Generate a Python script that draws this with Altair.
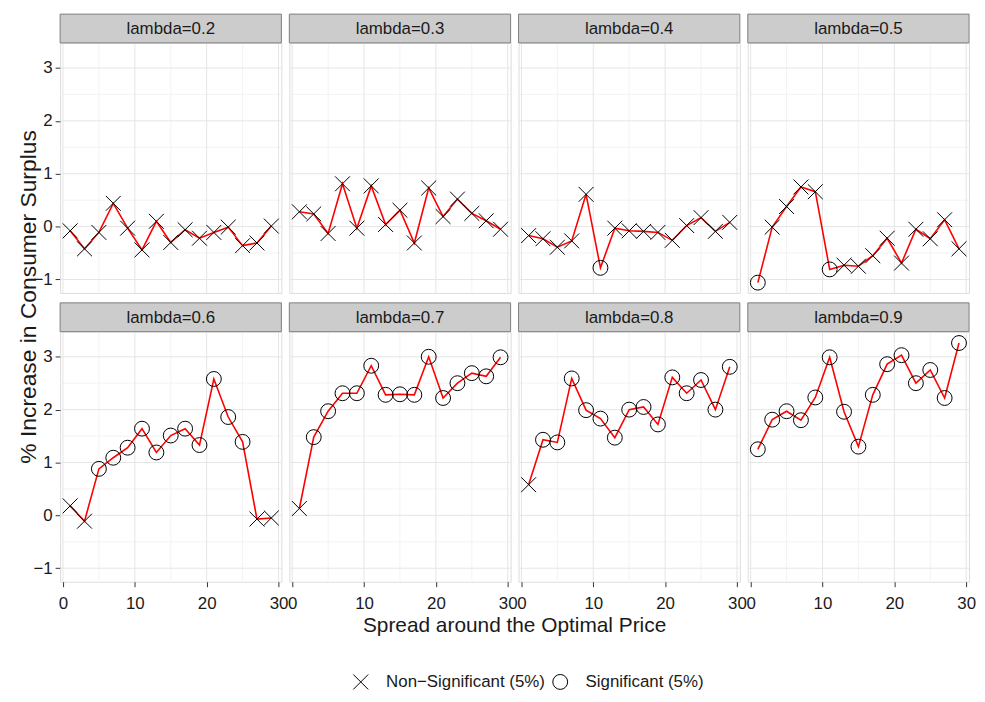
import altair as alt
import pandas as pd

# ---- data ----
spread = [1, 3, 5, 7, 9, 11, 13, 15, 17, 19, 21, 23, 25, 27, 29]
lambdas = ["0.2", "0.3", "0.4", "0.5", "0.6", "0.7", "0.8", "0.9"]

v02 = [-0.08, -0.42, -0.11, 0.44, -0.03, -0.44, 0.10, -0.30, -0.06, -0.22, -0.11, -0.01, -0.36, -0.31, 0.01]
v03 = [0.28, 0.24, -0.13, 0.81, -0.03, 0.77, 0.04, 0.31, -0.31, 0.73, 0.19, 0.52, 0.25, 0.11, -0.05]
v04 = [-0.17, -0.23, -0.39, -0.27, 0.61, -0.78, -0.03, -0.08, -0.09, -0.11, -0.26, 0.02, 0.17, -0.09, 0.08]
v05 = [-1.06, -0.01, 0.38, 0.75, 0.66, -0.81, -0.73, -0.75, -0.55, -0.22, -0.69, -0.05, -0.23, 0.13, -0.42]
v06 = [0.18, -0.11, 0.88, 1.09, 1.28, 1.64, 1.19, 1.51, 1.64, 1.33, 2.58, 1.86, 1.39, -0.07, -0.05]
v07 = [0.13, 1.48, 1.97, 2.31, 2.31, 2.83, 2.28, 2.29, 2.28, 3.00, 2.22, 2.50, 2.69, 2.63, 2.99]
v08 = [0.58, 1.43, 1.38, 2.59, 1.99, 1.83, 1.47, 2.00, 2.05, 1.72, 2.61, 2.31, 2.56, 2.00, 2.81]
v09 = [1.25, 1.81, 1.97, 1.80, 2.23, 2.99, 1.96, 1.30, 2.28, 2.86, 3.03, 2.50, 2.75, 2.22, 3.26]

# 1 = significant (circle), 0 = non-significant (cross)
s02 = [0, 0, 0, 0, 0, 0, 0, 0, 0, 0, 0, 0, 0, 0, 0]
s03 = [0, 0, 0, 0, 0, 0, 0, 0, 0, 0, 0, 0, 0, 0, 0]
s04 = [0, 0, 0, 0, 0, 1, 0, 0, 0, 0, 0, 0, 0, 0, 0]
s05 = [1, 0, 0, 0, 0, 1, 0, 0, 0, 0, 0, 0, 0, 0, 0]
s06 = [0, 0, 1, 1, 1, 1, 1, 1, 1, 1, 1, 1, 1, 0, 0]
s07 = [0, 1, 1, 1, 1, 1, 1, 1, 1, 1, 1, 1, 1, 1, 1]
s08 = [0, 1, 1, 1, 1, 1, 1, 1, 1, 1, 1, 1, 1, 1, 1]
s09 = [1, 1, 1, 1, 1, 1, 1, 1, 1, 1, 1, 1, 1, 1, 1]

sig_labels = ["Non\u2212Significant (5%)", "Significant (5%)"]

x_major = [0, 10, 20, 30]
x_minor = [5, 15, 25]
y_major = [-1, 0, 1, 2, 3]
y_minor = [-0.5, 0.5, 1.5, 2.5]

x_title = "Spread around the Optimal Price"
y_title = "% Increase in Consumer Surplus"

values = [v02, v03, v04, v05, v06, v07, v08, v09]
sigs = [s02, s03, s04, s05, s06, s07, s08, s09]

rows = []
for lam, vals, ss in zip(lambdas, values, sigs):
    for x, v, s in zip(spread, vals, ss):
        rows.append({"lam": lam, "spread": x, "value": v, "sig": sig_labels[s]})
df = pd.DataFrame(rows)

# ---- layout / style ----
W, H = 223, 252
STRIP = 29
FONT = "Liberation Sans"
TXT = "#1a1a1a"

xscale = alt.Scale(domain=[-0.4, 30.4], nice=False, zero=False)
yscale = alt.Scale(domain=[-1.255, 3.475], nice=False, zero=False)

xpath = "M-1,-1L1,1M-1,1L1,-1"
shape_scale = alt.Scale(domain=sig_labels, range=[xpath, "circle"])

legend = alt.Legend(
    orient="none", legendX=294.5, legendY=635.5, direction="horizontal", title=None,
    labelFontSize=17, labelFont=FONT, labelColor=TXT, labelLimit=0, labelOffset=17,
    columnPadding=5, symbolSize=225, symbolStrokeWidth=1, symbolStrokeColor="black",
    symbolFillColor="transparent", padding=0,
)


def make_xaxis():
    return alt.Axis(values=x_major, title=None, grid=False, domain=False, tickSize=5,
                    tickColor="#333333", labelFontSize=17, labelColor=TXT, labelPadding=9,
                    labelFlush=False, labelFont=FONT, format="d")


def make_yaxis():
    return alt.Axis(values=y_major, title=None, grid=False, domain=False, tickSize=5,
                    tickColor="#333333", labelFontSize=17, labelColor=TXT, labelPadding=3,
                    labelFont=FONT, format="d")


panels = []
for i, lam in enumerate(lambdas):
    r, c = divmod(i, 4)
    xaxis = make_xaxis() if r == 1 else None
    yaxis = make_yaxis() if c == 0 else None
    d = df[df.lam == lam]

    gxmin = alt.Chart(pd.DataFrame({"g": x_minor})).mark_rule(color="#F3F3F3", strokeWidth=1).encode(
        x=alt.X("g:Q", scale=xscale, axis=xaxis))
    gymin = alt.Chart(pd.DataFrame({"g": y_minor})).mark_rule(color="#F3F3F3", strokeWidth=1).encode(
        y=alt.Y("g:Q", scale=yscale, axis=yaxis))
    gxmaj = alt.Chart(pd.DataFrame({"g": x_major})).mark_rule(color="#E5E5E5", strokeWidth=1).encode(
        x=alt.X("g:Q", scale=xscale, axis=xaxis))
    gymaj = alt.Chart(pd.DataFrame({"g": y_major})).mark_rule(color="#E5E5E5", strokeWidth=1).encode(
        y=alt.Y("g:Q", scale=yscale, axis=yaxis))

    line = alt.Chart(d).mark_line(color="#FF0000", strokeWidth=1.6).encode(
        x=alt.X("spread:Q", scale=xscale, axis=xaxis),
        y=alt.Y("value:Q", scale=yscale, axis=yaxis))
    pts = alt.Chart(d).mark_point(filled=False, size=225, strokeWidth=1, color="black", opacity=1).encode(
        x=alt.X("spread:Q", scale=xscale, axis=xaxis),
        y=alt.Y("value:Q", scale=yscale, axis=yaxis),
        shape=alt.Shape("sig:N", scale=shape_scale, legend=legend))

    lab = pd.DataFrame({"label": [f"lambda={lam}"]})
    strip = alt.Chart(lab).mark_rect(fill="#CCCCCC", stroke="#7F7F7F", strokeWidth=1).encode(
        x=alt.value(0), x2=alt.value(W), y=alt.value(-STRIP), y2=alt.value(0))
    strip_txt = alt.Chart(lab).mark_text(fontSize=17, color=TXT, align="center", baseline="middle",
                                         font=FONT).encode(
        x=alt.value(W / 2), y=alt.value(-STRIP / 2 + 0.5), text="label:N")

    layers = [gxmin, gymin, gxmaj, gymaj, line, pts, strip, strip_txt]
    if i == 4:
        yt = alt.Chart(pd.DataFrame({"t": [y_title]})).mark_text(
            angle=270, fontSize=23, color=TXT, align="center", baseline="middle", font=FONT).encode(
            x=alt.value(-31.5), y=alt.value(-35), text="t:N")
        layers.append(yt)
    if i == 5:
        xt = alt.Chart(pd.DataFrame({"t": [x_title]})).mark_text(
            fontSize=21, color=TXT, align="center", baseline="middle", font=FONT).encode(
            x=alt.value(227), y=alt.value(296.5), text="t:N")
        layers.append(xt)

    panels.append(alt.layer(*layers).properties(width=W, height=H))

chart = alt.concat(*panels, columns=4, spacing={"row": 39, "column": 8}, bounds="flush").resolve_scale(
    shape="shared").properties(
    padding={"left": 8.5, "top": 2.5, "right": 0, "bottom": 0}
).configure_view(stroke="#7F7F7F", strokeWidth=1).configure(font=FONT)

chart.save("out.html", embed_options={"renderer": "svg", "actions": False})
